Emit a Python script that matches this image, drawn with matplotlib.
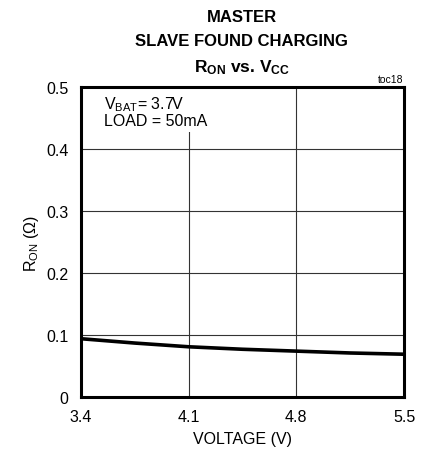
import matplotlib
matplotlib.use("Agg")
import matplotlib.pyplot as plt
from matplotlib.patches import Rectangle

# curve
voltage = [3.4, 3.75, 4.1, 4.45, 4.8, 5.15, 5.5]
r_on = [0.094, 0.087, 0.081, 0.077, 0.074, 0.071, 0.069]

x_ticks = [3.4, 4.1, 4.8, 5.5]
y_ticks = [0, 0.1, 0.2, 0.3, 0.4, 0.5]

plt.rcParams["font.family"] = ["Liberation Sans", "DejaVu Sans"]
plt.rcParams["mathtext.fontset"] = "custom"
plt.rcParams["mathtext.rm"] = "Liberation Sans"
plt.rcParams["mathtext.it"] = "Liberation Sans"
plt.rcParams["mathtext.bf"] = "Liberation Sans:bold"

fig = plt.figure(figsize=(4.24, 4.56), dpi=100)
ax = fig.add_axes([81 / 424, 1 - 398 / 456, 323 / 424, 310 / 456])

ax.plot(voltage, r_on, color="black", linewidth=2.6, solid_capstyle="butt", zorder=3)

ax.set_xlim(3.4, 5.5)
ax.set_ylim(0, 0.5)
ax.set_xticks(x_ticks)
ax.set_yticks(y_ticks)
ax.set_xticklabels([f"{v:.1f}" for v in x_ticks])
ax.set_yticklabels(["0"] + [f"{v:.1f}" for v in y_ticks[1:]])
ax.tick_params(length=0, labelsize=11.5, pad=9)
ax.grid(True, color="#333333", linewidth=0.8)
ax.set_axisbelow(True)
for s in ax.spines.values():
    s.set_linewidth(2.2)

ax.set_xlabel("VOLTAGE (V)", fontsize=11.5, labelpad=5)
ax.set_ylabel(r"R$_{\mathrm{ON}}$ (Ω)", fontsize=11.5, labelpad=4)

# white patch behind the condition note (hides the 4.1 gridline there)
ax.add_patch(Rectangle((0.01, 0.855), 0.33, 0.14, transform=ax.transAxes,
                       facecolor="white", edgecolor="none", zorder=1.5))
ax.text(0.07, 0.975, r"V$_{\mathrm{BAT}}$= 3.7V" + "\nLOAD = 50mA",
        transform=ax.transAxes, ha="left", va="top", fontsize=11.5,
        linespacing=1.0, zorder=2)

fig.text(0.57, 1 - 18 / 456, "MASTER", ha="center", va="center",
         fontsize=12, fontweight="bold")
fig.text(0.57, 1 - 41 / 456, "SLAVE FOUND CHARGING", ha="center", va="center",
         fontsize=12, fontweight="bold")
fig.text(0.57, 1 - 68 / 456, r"$\mathbf{R_{ON}}$ vs. $\mathbf{V_{CC}}$",
         ha="center", va="center", fontsize=12.5, fontweight="bold")
fig.text(403 / 424, 1 - 80 / 456, "toc18", ha="right", va="center", fontsize=7.5)

fig.savefig("out.png", dpi=100)
